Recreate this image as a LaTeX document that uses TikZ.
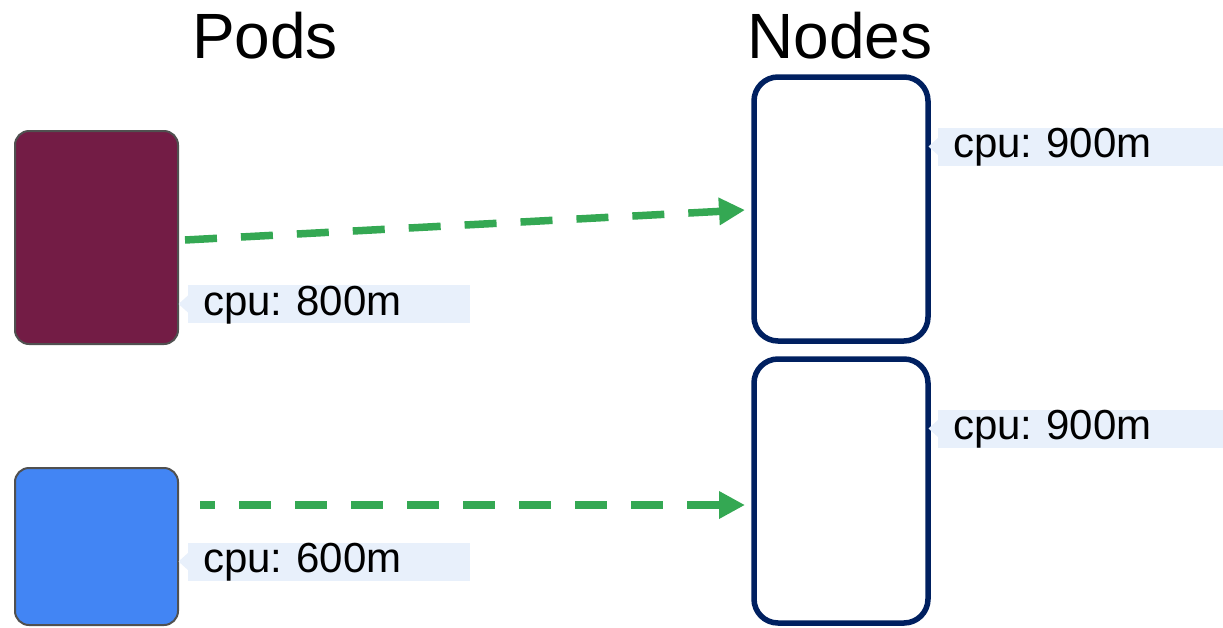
\documentclass[tikz,border=0pt]{standalone}
\usepackage{fontspec}
\setmainfont{Liberation Sans}
\frenchspacing
\usetikzlibrary{arrows.meta}
\definecolor{podred}{HTML}{731C45}
\definecolor{podblue}{HTML}{4285F4}
\definecolor{podedge}{HTML}{505050}
\definecolor{nodeblue}{HTML}{002060}
\definecolor{lblbg}{HTML}{E8F0FB}
\definecolor{arrgreen}{HTML}{34A853}
\tikzset{
  podbox/.style={draw=podedge, line width=2pt, rounded corners=14pt, minimum width=163pt, inner sep=0pt},
  nodebox/.style={draw=nodeblue, line width=5.5pt, rounded corners=24pt, minimum width=174pt, minimum height=264pt, inner sep=0pt},
  cpulabel/.style={fill=lblbg, anchor=west, minimum width=282pt, minimum height=38pt, inner xsep=15pt, inner ysep=0pt, text width=252pt, align=left, font=\fontsize{42}{42}\selectfont, text height=30pt, text depth=8pt},
  title/.style={font=\fontsize{64}{64}\selectfont},
  flow/.style={draw=arrgreen, line width=7.5pt, dash pattern=on 32pt off 24pt, -{Triangle[length=26pt,width=26pt]}}
}
\begin{document}
\begin{tikzpicture}[x=1pt,y=-1pt]
\useasboundingbox (0,0) rectangle (1223,627);
\node[title] (podstitle) at (265,36) {Pods};
\node[title] (nodestitle) at (840,36) {Nodes};
\node[podbox, fill=podred, minimum height=213pt] (pod1) at (96.5,237.5) {};
\node[podbox, fill=podblue, minimum height=157pt] (pod2) at (96.5,546.5) {};
\node[nodebox] (n1) at (841,209) {};
\node[nodebox] (n2) at (841,491) {};
\node[cpulabel] (l1) at (188,304) {cpu: 800m};
\node[cpulabel] (l2) at (188,561.5) {cpu: 600m};
\node[cpulabel, minimum width=285pt, text width=255pt, inner xsep=15pt] (l3) at (938,146.5) {cpu: 900m};
\node[cpulabel, minimum width=285pt, text width=255pt, inner xsep=15pt] (l4) at (938,428.5) {cpu: 900m};
\foreach \l in {l1,l2,l3,l4}{
  \fill[lblbg] (\l.west) ++(0.5,-9) -- ++(-10,9) -- ++(10,9) -- cycle;
}
\coordinate (a1s) at (185,240);
\coordinate (a1e) at (745,210);
\coordinate (a2s) at (200,505);
\coordinate (a2e) at (745,505);
\draw[flow] (a1s) -- (a1e);
\draw[flow, dash pattern=on 15pt off 24pt on 32pt off 24pt on 32pt off 24pt on 32pt off 24pt on 32pt off 24pt on 32pt off 24pt on 32pt off 24pt on 32pt off 24pt on 32pt off 24pt on 32pt off 24pt on 32pt off 24pt] (a2s) -- (a2e);
\end{tikzpicture}
\end{document}
